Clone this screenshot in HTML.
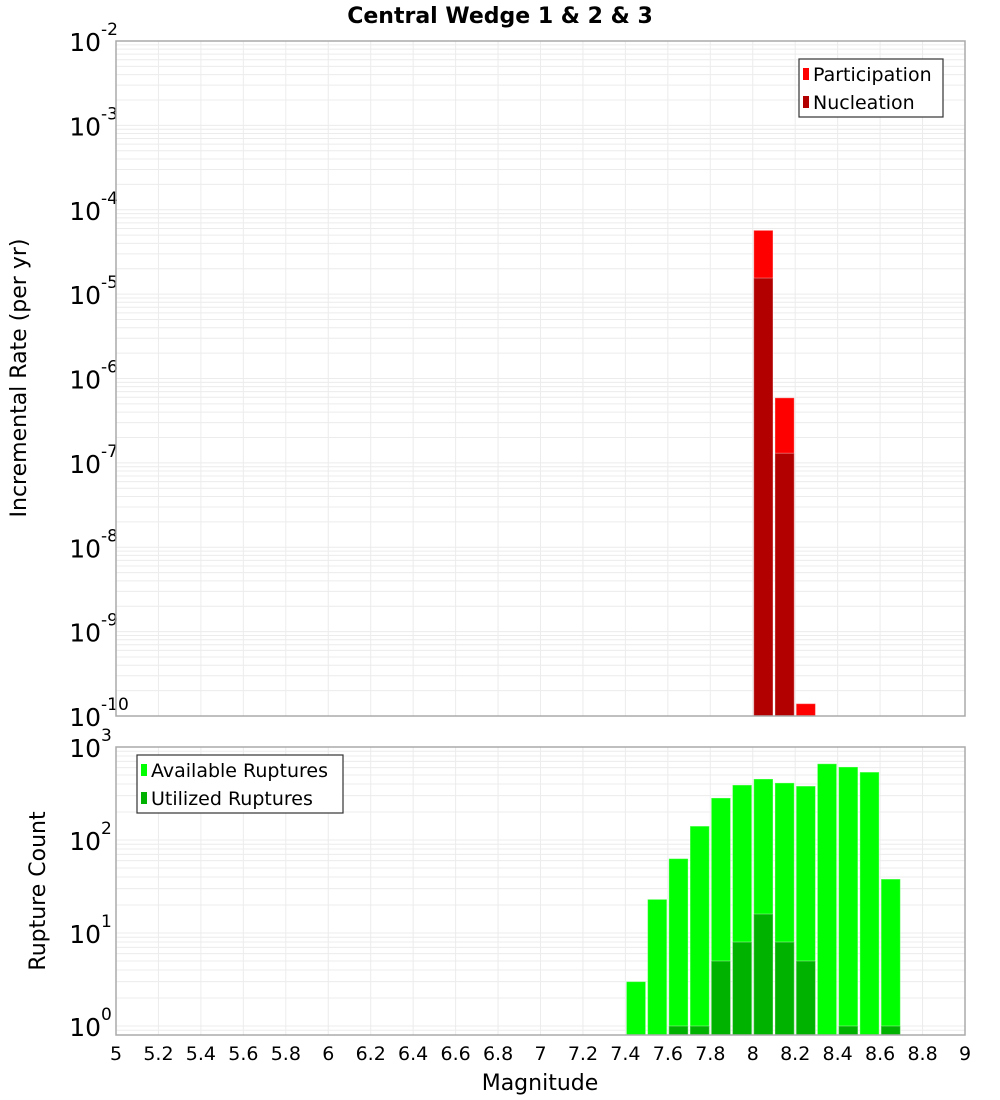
<!DOCTYPE html>
<html><head><meta charset="utf-8"><style>
html,body{margin:0;padding:0;background:#fff;}
svg{display:block;font-family:"DejaVu Sans","Liberation Sans",sans-serif;}
</style></head><body>
<svg id="chart" width="1000" height="1100" viewBox="0 0 1000 1100">
<text x="500" y="23" text-anchor="middle" font-size="22" font-weight="bold">Central Wedge 1 &amp; 2 &amp; 3</text>
<g id="top"></g>
<g id="bot"></g>
<text x="540" y="1090" text-anchor="middle" font-size="22">Magnitude</text>
<text transform="translate(26,378) rotate(-90)" text-anchor="middle" font-size="22">Incremental Rate (per yr)</text>
<text transform="translate(45,891) rotate(-90)" text-anchor="middle" font-size="22">Rupture Count</text>
</svg>
<script>
const partMags = [8.05, 8.15, 8.25];
const partVals = [5.7e-5, 5.9e-7, 1.4e-10];
const nuclMags = [8.05, 8.15];
const nuclVals = [1.55e-5, 1.3e-7];
const availMags = [7.45,7.55,7.65,7.75,7.85,7.95,8.05,8.15,8.25,8.35,8.45,8.55,8.65];
const availVals = [3,23,63,141,283,390,453,411,380,660,610,537,38];
const usedMags = [7.65,7.75,7.85,7.95,8.05,8.15,8.25,8.45,8.65];
const usedVals = [1,1,5,8,16,8,5,1,1];
const xTicks = ["5","5.2","5.4","5.6","5.8","6","6.2","6.4","6.6","6.8","7","7.2","7.4","7.6","7.8","8","8.2","8.4","8.6","8.8","9"];
const topExps = [-2,-3,-4,-5,-6,-7,-8,-9,-10];
const botExps = [3,2,1,0];

const NS="http://www.w3.org/2000/svg";
const X0=116,X1=965,XMIN=5,XMAX=9;
const x=m=>X0+(m-XMIN)/(XMAX-XMIN)*(X1-X0);
function mk(parent,tag,attrs){const e=document.createElementNS(NS,tag);for(const k in attrs)e.setAttribute(k,attrs[k]);parent.appendChild(e);return e;}

function panel(g,top,bottom,yOf,loE,hiE,exps,labelDy){
  mk(g,'rect',{x:X0,y:top,width:X1-X0,height:bottom-top,fill:'#fff'});
  for(let e=loE-1;e<=hiE;e++){for(let k=1;k<10;k++){const yy=yOf(k*Math.pow(10,e));if(yy<top||yy>bottom)continue;
    const l=mk(g,'line',{x1:X0,x2:X1,y1:yy,y2:yy,stroke:'#ececec','stroke-width':1});
    
    }}
  xTicks.forEach(t=>{const xx=x(parseFloat(t));
    const l=mk(g,'line',{x1:xx,x2:xx,y1:top,y2:bottom,stroke:'#ececec','stroke-width':1});
    
    });
  exps.forEach(e=>{const yy=yOf(Math.pow(10,e));
    const t=mk(g,'text',{x:101,y:yy+labelDy,'text-anchor':'end','font-size':25});
    t.textContent='10';
    
    
    const s=mk(g,'text',{x:101,y:yy+labelDy-16,'font-size':17});
    s.textContent=String(e);
    
    });
}
function bars(g,mags,vals,yOf,bottom,fill,name){
  mags.forEach((m,i)=>{const y0=Math.max(yOf(vals[i]),0);
    const r=mk(g,'rect',{x:x(m-0.05)+1,y:y0,width:x(0.1+XMIN)-X0-2,height:bottom-y0,fill:fill,stroke:'rgba(255,255,255,0.35)','stroke-width':1});
    
    });
}
function frame(g,top,bottom){const r=mk(g,'rect',{x:X0,y:top,width:X1-X0,height:bottom-top,fill:'none',stroke:'#aaa','stroke-width':1.5});
  
  }
function legend(g,lx,ly,w,items){
  const b=mk(g,'rect',{x:lx,y:ly,width:w,height:58,fill:'#fff',stroke:'#333','stroke-width':1.2});
  
  
  items.forEach((it,i)=>{const yy=ly+15+i*28;
    const s=mk(g,'rect',{x:lx+4,y:yy-6,width:6,height:12,fill:it[1]});
    
    
    const t=mk(g,'text',{x:lx+14,y:yy+7,'font-size':19});
    t.textContent=it[0];
    
    });
}
// top panel
const gT=document.getElementById('top');
const TT=41,TB=716;
const yT=v=>TT+(-2-Math.log10(v))*(TB-TT)/8;
panel(gT,TT,TB,yT,-10,-2,topExps,10);
bars(gT,partMags,partVals,yT,TB,'#ff0000','participation-bar');
bars(gT,nuclMags,nuclVals,yT,TB,'#b20000','nucleation-bar');
frame(gT,TT,TB);
legend(gT,799,59,144,[['Participation','#ff0000'],['Nucleation','#b20000']]);
// bottom panel
const gB=document.getElementById('bot');
const BT=747,BB=1035,DEC=93,ONE=1026;
const yB=v=>ONE-Math.log10(v)*DEC;
panel(gB,BT,BB,yB,0,3,botExps,10);
bars(gB,availMags,availVals,yB,BB,'#00ff00','available-bar');
bars(gB,usedMags,usedVals,yB,BB,'#00b200','utilized-bar');
frame(gB,BT,BB);
legend(gB,137,755,206,[['Available Ruptures','#00ff00'],['Utilized Ruptures','#00b200']]);
// x tick labels
xTicks.forEach(t=>{const e=mk(document.getElementById('chart'),'text',{x:x(parseFloat(t)),y:1060,'text-anchor':'middle','font-size':19});
  e.textContent=t;
  
  });
</script>
</body></html>
